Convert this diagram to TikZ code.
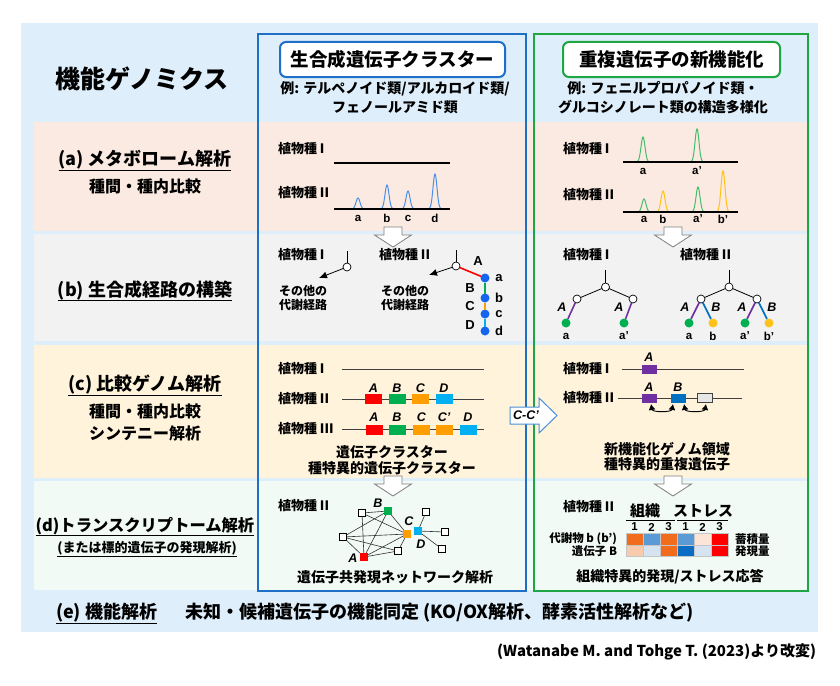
\documentclass[tikz,border=0pt]{standalone}
\usepackage{fontspec}
\setmainfont{Noto Sans CJK JP}
\newfontfamily\latf{Liberation Sans}
\usetikzlibrary{arrows.meta,calc}
\definecolor{bgblue}{HTML}{DEEEFA}
\definecolor{bandA}{HTML}{FBEAE1}
\definecolor{bandB}{HTML}{F2F2F2}
\definecolor{bandC}{HTML}{FFF4DB}
\definecolor{bandD}{HTML}{F2FAF5}
\definecolor{colblue}{HTML}{1F6FC6}
\definecolor{colgreen}{HTML}{1FA644}
\definecolor{pkblue}{HTML}{4A90E8}
\definecolor{pkgreen}{HTML}{43BE6A}
\definecolor{pkyellow}{HTML}{FFC21A}
\definecolor{gred}{HTML}{FF0000}
\definecolor{ggreen}{HTML}{00B050}
\definecolor{gorange}{HTML}{FF9E00}
\definecolor{gcyan}{HTML}{00B0F0}
\definecolor{gpurple}{HTML}{7030A0}
\definecolor{gblue}{HTML}{0070C0}
\definecolor{dotblue}{HTML}{1565F0}
\definecolor{hmorange}{HTML}{F26C1D}
\definecolor{hmblue}{HTML}{5B9BD5}
\definecolor{hmpeach}{HTML}{FCE4D6}
\definecolor{hmpeachb}{HTML}{F8CBAD}
\definecolor{hmlblue}{HTML}{D6E3F1}
\definecolor{hmdblue}{HTML}{0B6CC4}
\definecolor{arrgray}{HTML}{7F7F7F}
\definecolor{ccblue}{HTML}{4A8FD8}
\definecolor{linegray}{HTML}{404040}
\definecolor{boxgray}{HTML}{E7E6E6}
\newcommand\drawpeak[4]{\draw[#4, line width=1pt] plot[domain=-10:10, samples=51, smooth] ({#1+\x},{#2-#3*exp(-\x*\x/8)});}
\tikzset{
  every node/.style={inner sep=0pt, outer sep=0pt},
  ft/.style 2 args={font=\bfseries\fontsize{#1}{#2}\selectfont, align=center},
  sp/.style={ft={13}{15}, anchor=west},
  gl/.style={font=\latf\bfseries\fontsize{11.5}{13}\selectfont},
  gu/.style={font=\latf\bfseries\fontsize{13}{14}\selectfont},
  gi/.style={font=\latf\bfseries\itshape\fontsize{12.5}{14}\selectfont},
  hbox/.style={draw=#1, fill=white, line width=2pt, rounded corners=6pt, minimum height=35pt, ft={18.5}{20}},
  ul/.style={line width=1pt},
  base/.style={line width=1.3pt, black},
  gline/.style={line width=1pt, linegray},
  thinl/.style={line width=0.8pt, black},
  parr/.style={line width=0.8pt, black, -{Latex[length=8pt,width=7pt]}},
  circ/.style={circle, draw=black, fill=white, line width=0.7pt, minimum size=8pt},
  bdot/.style={circle, fill=#1, minimum size=9pt},
  gene/.style={fill=#1, minimum width=17pt, minimum height=10pt},
  sgene/.style={fill=#1, minimum width=15pt, minimum height=9pt},
  nw/.style={draw=black, line width=0.5pt, fill=white, minimum size=7pt},
  nwc/.style={fill=#1, minimum size=8pt},
  nedge/.style={line width=0.6pt, black!80},
  cell/.style={fill=#1, draw=gray!45, line width=0.3pt, minimum width=17pt, minimum height=11.5pt, anchor=north west},
  downarr/.pic={\draw[arrgray, fill=white, line width=0.8pt] (-9,0) -- (9,0) -- (9,8) -- (18.5,8) -- (0,20) -- (-18.5,8) -- (-9,8) -- cycle;},
}
\begin{document}
\begin{tikzpicture}[x=1pt,y=-1pt]
\useasboundingbox (0,0) rectangle (840,685);
\fill[white] (0,0) rectangle (840,685);
\fill[bgblue] (21,23) rectangle (818,632);
\fill[bandA] (34,122) rectangle (808,231);
\fill[bandB] (34,234) rectangle (808,341);
\fill[bandC] (34,345) rectangle (808,478);
\fill[bandD] (34,481) rectangle (808,590);
\draw[colblue, line width=2pt] (258,34) rectangle (526,591);
\draw[colgreen, line width=2pt] (534,34) rectangle (808,591);

% headers
\node[ft={25}{28}] (title) at (142,79) {機能ゲノミクス};
\node[hbox=colblue, minimum width=225pt] (h1) at (392.5,59.5) {生合成遺伝子クラスター};
\node[hbox=colgreen, minimum width=217pt] (h2) at (671.5,59.5) {重複遺伝子の新機能化};
\node[ft={14}{19}] (s1) at (395,98) {例: テルペノイド類/アルカロイド類/\\フェノールアミド類};
\node[ft={14}{19}] (s2) at (663,98) {例: フェニルプロパノイド類・\\グルコシノレート類の構造多様化};

% left labels
\node[ft={18}{20}] (la) at (145,160) {(a) メタボローム解析};
\draw[ul] ([yshift=-1pt]la.south west) -- ([yshift=-1pt]la.south east);
\node[ft={16}{18}] (la2) at (145,186) {種間・種内比較};
\node[ft={18}{20}] (lb) at (145,290) {(b) 生合成経路の構築};
\draw[ul] ([yshift=-1pt]lb.south west) -- ([yshift=-1pt]lb.south east);
\node[ft={18}{20}] (lc) at (145,385) {(c) 比較ゲノム解析};
\draw[ul] ([yshift=-1pt]lc.south west) -- ([yshift=-1pt]lc.south east);
\node[ft={16}{22}] (lc2) at (145,422) {種間・種内比較\\シンテニー解析};
\node[ft={16.3}{18}] (ld) at (145,526) {(d)トランスクリプトーム解析};
\draw[ul] ([yshift=-1pt]ld.south west) -- ([yshift=-1pt]ld.south east);
\node[ft={13}{14}] (ld2) at (147,548) {(または標的遺伝子の発現解析)};
\draw[line width=0.8pt] ([yshift=-1pt]ld2.south west) -- ([yshift=-1pt]ld2.south east);
\node[ft={18}{20}, anchor=west] (le) at (56,613) {(e) 機能解析};
\draw[ul] ([yshift=-1pt]le.south west) -- ([yshift=-1pt]le.south east);
\node[ft={18}{20}, anchor=west] (le2) at (185,613) {未知・候補遺伝子の機能同定 (KO/OX解析、酵素活性解析など)};
\node[ft={15}{17}, anchor=east] (cite) at (816,652) {(Watanabe M. and Tohge T. (2023)より改変)};

% ---- row (a) middle
\node[sp] (a1) at (278,149) {植物種 I};
\node[sp] (a2) at (278,193) {植物種 II};
\coordinate (a1l) at (334,163); \coordinate (a1r) at (450,163);
\draw[base] (a1l) -- (a1r);
\drawpeak{358}{209}{11}{pkblue}
\drawpeak{387}{209}{24}{pkblue}
\drawpeak{408}{209}{18}{pkblue}
\drawpeak{435}{209}{35}{pkblue}
\coordinate (a2l) at (334,209); \coordinate (a2r) at (450,209);
\draw[base] (a2l) -- (a2r);
\node[gl] (pa) at (358,218) {a};
\node[gl] (pb) at (387,218) {b};
\node[gl] (pc) at (408,218) {c};
\node[gl] (pd) at (435,218) {d};

% ---- row (a) right
\node[sp] (a3) at (563,149) {植物種 I};
\node[sp] (a4) at (563,195) {植物種 II};
\drawpeak{643}{162}{25}{pkgreen}
\drawpeak{697}{162}{33}{pkgreen}
\coordinate (a3l) at (623,162); \coordinate (a3r) at (738,162);
\draw[base] (a3l) -- (a3r);
\drawpeak{644}{212}{13}{pkgreen}
\drawpeak{663}{212}{21}{pkyellow}
\drawpeak{698}{212}{25}{pkgreen}
\drawpeak{723}{212}{41}{pkyellow}
\coordinate (a4l) at (623,212); \coordinate (a4r) at (738,212);
\draw[base] (a4l) -- (a4r);
\node[gl] (qa) at (643,171) {a};
\node[gl] (qa2) at (697,171) {a’};
\node[gl] (ra) at (644,219) {a};
\node[gl] (rb) at (663,219) {b};
\node[gl] (ra2) at (698,219) {a’};
\node[gl] (rb2) at (723,219) {b’};

% down arrows
\pic at (393,227) {downarr};
\pic at (673,227) {downarr};
\pic at (393,476) {downarr};
\pic at (673,476) {downarr};

% ---- row (b) middle
\node[sp] (b1) at (278,255) {植物種 I};
\node[sp] (b2) at (379,255) {植物種 II};
\coordinate (p1t) at (347,251);
\node[circ] (p1c) at (347,267) {};
\coordinate (p1e) at (319,278);
\draw[thinl] (p1t) -- (p1c);
\draw[parr] (p1c) -- (p1e);
\node[ft={12}{14}] (o1) at (303,298) {その他の\\代謝経路};
\coordinate (p2t) at (456,250);
\node[circ] (p2c) at (456,266) {};
\coordinate (p2e) at (429,275);
\draw[thinl] (p2t) -- (p2c);
\draw[parr] (p2c) -- (p2e);
\node[ft={12}{14}] (o2) at (405,298) {その他の\\代謝経路};
\node[bdot=dotblue] (dA) at (485,278) {};
\node[bdot=dotblue] (dB) at (485,298) {};
\node[bdot=dotblue] (dC) at (485,314) {};
\node[bdot=dotblue] (dD) at (485,331) {};
\draw[gred, line width=1.6pt] (p2c) -- (dA);
\draw[ggreen, line width=1.6pt] (dA) -- (dB);
\draw[gorange, line width=1.6pt] (dB) -- (dC);
\draw[gcyan, line width=1.6pt] (dC) -- (dD);
\node[gu] (eA) at (478,261) {A};
\node[gu] (eB) at (470,288) {B};
\node[gu] (eC) at (470,306) {C};
\node[gu] (eD) at (470,325) {D};
\node[gu] (ea) at (499,278) {a};
\node[gu] (eb) at (499,298) {b};
\node[gu] (ec) at (499,314) {c};
\node[gu] (ed) at (499,331) {d};

% ---- row (b) right
\node[sp] (b3) at (563,255) {植物種 I};
\node[sp] (b4) at (680,255) {植物種 II};
% tree I
\coordinate (t1t) at (605.5,270);
\node[circ] (t1r) at (605.5,287) {};
\node[circ] (t1a) at (577,299) {};
\node[circ] (t1b) at (633,299) {};
\node[bdot=ggreen] (t1la) at (566,323) {};
\node[bdot=ggreen] (t1lb) at (624,323) {};
\draw[thinl] (t1t) -- (t1r);
\draw[thinl] (t1r) -- (t1a);
\draw[thinl] (t1r) -- (t1b);
\draw[gpurple, line width=1.6pt] (t1a) -- (t1la);
\draw[gpurple, line width=1.6pt] (t1b) -- (t1lb);
\node[gi] (t1A) at (562,307) {A};
\node[gi] (t1B) at (619,307) {A};
\node[gl] (t1x) at (566,336) {a};
\node[gl] (t1y) at (624,336) {a’};
% tree II
\coordinate (t2t) at (729,270);
\node[circ] (t2r) at (729,287) {};
\node[circ] (t2a) at (701,299) {};
\node[circ] (t2b) at (757,299) {};
\node[bdot=ggreen] (t2l1) at (689,323) {};
\node[bdot=pkyellow] (t2l2) at (713,323) {};
\node[bdot=ggreen] (t2l3) at (745,323) {};
\node[bdot=pkyellow] (t2l4) at (769,323) {};
\draw[thinl] (t2t) -- (t2r);
\draw[thinl] (t2r) -- (t2a);
\draw[thinl] (t2r) -- (t2b);
\draw[gpurple, line width=1.6pt] (t2a) -- (t2l1);
\draw[gblue, line width=1.6pt] (t2a) -- (t2l2);
\draw[gpurple, line width=1.6pt] (t2b) -- (t2l3);
\draw[gblue, line width=1.6pt] (t2b) -- (t2l4);
\node[gi] (t2A1) at (685,307) {A};
\node[gi] (t2B1) at (716,307) {B};
\node[gi] (t2A2) at (742,307) {A};
\node[gi] (t2B2) at (772,307) {B};
\node[gl] (t2x1) at (689,336) {a};
\node[gl] (t2x2) at (713,336) {b};
\node[gl] (t2x3) at (745,336) {a’};
\node[gl] (t2x4) at (769,336) {b’};

% ---- row (c) middle
\node[sp] (c1) at (278,369) {植物種 I};
\coordinate (c1l) at (342,369); \coordinate (c1r) at (484,369);
\draw[gline] (c1l) -- (c1r);
\node[sp] (c2) at (278,399) {植物種 II};
\coordinate (c2l) at (342,399); \coordinate (c2r) at (484,399);
\draw[gline] (c2l) -- (c2r);
\node[gene=gred] (gA2) at (373.5,399) {};
\node[gene=ggreen] (gB2) at (397,399) {};
\node[gene=gorange] (gC2) at (420.5,399) {};
\node[gene=gcyan] (gD2) at (444,399) {};
\node[gi] (lA2) at (373.5,388) {A};
\node[gi] (lB2) at (397,388) {B};
\node[gi] (lC2) at (420.5,388) {C};
\node[gi] (lD2) at (444,388) {D};
\node[sp] (c3) at (278,429) {植物種 III};
\coordinate (c3l) at (342,429); \coordinate (c3r) at (484,429);
\draw[gline] (c3l) -- (c3r);
\node[gene=gred] (gA3) at (374,429.5) {};
\node[gene=ggreen] (gB3) at (397,429.5) {};
\node[gene=gorange] (gC3) at (421.5,429.5) {};
\node[gene=gorange] (gC3b) at (444,429.5) {};
\node[gene=gcyan] (gD3) at (468,429.5) {};
\node[gi] (lA3) at (374,417) {A};
\node[gi] (lB3) at (397,417) {B};
\node[gi] (lC3) at (421.5,417) {C};
\node[gi] (lC3b) at (444,417) {C’};
\node[gi] (lD3) at (468,417) {D};
\node[ft={14}{16}] (ct) at (392,460) {遺伝子クラスター\\種特異的遺伝子クラスター};

% ---- row (c) right
\node[sp] (c4) at (563,369) {植物種 I};
\coordinate (c4l) at (622,369); \coordinate (c4r) at (744,369);
\draw[gline] (c4l) -- (c4r);
\node[sgene=gpurple] (rA1) at (649.5,369) {};
\node[gi] (rlA1) at (649,357) {A};
\node[sp] (c5) at (563,398) {植物種 II};
\coordinate (c5l) at (618,398); \coordinate (c5r) at (742,398);
\draw[gline] (c5l) -- (c5r);
\node[sgene=gpurple] (rA2) at (649.5,398) {};
\node[sgene=gblue] (rB2) at (678.5,398) {};
\node[sgene=boxgray, draw=linegray, line width=0.8pt] (rX2) at (705,398) {};
\node[gi] (rlA2) at (649,387) {A};
\node[gi] (rlB2) at (678,387) {B};
\coordinate (q1) at (651,404); \coordinate (q2) at (673,404);
\coordinate (q3) at (684,404); \coordinate (q4) at (706,404);
\draw[line width=0.9pt, {Latex[length=6pt,width=7pt]}-{Latex[length=6pt,width=7pt]}] (q1) to[out=-80, in=-100] (q2);
\draw[line width=0.9pt, {Latex[length=6pt,width=7pt]}-{Latex[length=6pt,width=7pt]}] (q3) to[out=-80, in=-100] (q4);
\node[ft={14}{15}] (rt) at (667,457) {新機能化ゲノム領域\\種特異的重複遺伝子};

% C-C' arrow
\draw[ccblue, fill=white, line width=1pt] (510,407) -- (539,407) -- (539,398) -- (557,415.5) -- (539,433) -- (539,424) -- (510,424) -- cycle;
\node[gi] (cc) at (526,415.5) {C-C’};

% ---- row (d) middle
\node[sp] (d1) at (278,506) {植物種 II};
\node[nw] (n1) at (362,513) {};
\node[nw] (n2) at (343,537) {};
\node[nw] (n3) at (398,551) {};
\node[nw] (n4) at (426,512) {};
\node[nw] (n5) at (445,532) {};
\node[nw] (n6) at (442,549) {};
\node[nwc=ggreen] (nB) at (388,511) {};
\node[nwc=gred] (nA) at (364,557) {};
\node[nwc=gorange] (nC) at (407,534) {};
\node[nwc=gcyan] (nD) at (418,531) {};
\draw[nedge] (n1) -- (nB);
\draw[nedge] (n1) -- (nC);
\draw[nedge] (n1) -- (nA);
\draw[nedge] (n2) -- (nB);
\draw[nedge] (n2) -- (nC);
\draw[nedge] (n2) -- (n3);
\draw[nedge] (n2) -- (nA);
\draw[nedge] (nB) -- (nA);
\draw[nedge] (nB) -- (nC);
\draw[nedge] (nA) -- (nC);
\draw[nedge] (nA) -- (n3);
\draw[nedge] (n3) -- (nC);
\draw[nedge] (nD) -- (n4);
\draw[nedge] (nD) -- (n5);
\draw[nedge] (nD) -- (n6);
\node[gi] (nlB) at (378,503) {B};
\node[gi] (nlC) at (409,521) {C};
\node[gi] (nlD) at (421,544) {D};
\node[gi] (nlA) at (353,558) {A};
\node[ft={14}{16}] (d3) at (395,577) {遺伝子共発現ネットワーク解析};

% ---- row (d) right
\node[sp] (d2) at (563,507) {植物種 II};
\node[ft={15}{17}] (tis) at (645,511) {組織};
\node[ft={15}{17}] (str) at (703,511) {ストレス};
\coordinate (u1) at (626,520); \coordinate (u2) at (675,520);
\coordinate (u3) at (677,520); \coordinate (u4) at (728,520);
\draw[line width=0.8pt] (u1) -- (u2);
\draw[line width=0.8pt] (u3) -- (u4);
\node[gl] (k1) at (634.5,527) {1};
\node[gl] (k2) at (651.5,527) {2};
\node[gl] (k3) at (668.5,527) {3};
\node[gl] (k4) at (685.5,527) {1};
\node[gl] (k5) at (702.5,527) {2};
\node[gl] (k6) at (719.5,527) {3};
\node[cell=hmorange] (m11) at (626,533.5) {};
\node[cell=hmblue] (m12) at (643,533.5) {};
\node[cell=hmorange] (m13) at (660,533.5) {};
\node[cell=hmblue] (m14) at (677,533.5) {};
\node[cell=hmpeach] (m15) at (694,533.5) {};
\node[cell=gred] (m16) at (711,533.5) {};
\node[cell=hmpeachb] (m21) at (626,545) {};
\node[cell=hmlblue] (m22) at (643,545) {};
\node[cell=hmorange] (m23) at (660,545) {};
\node[cell=hmdblue] (m24) at (677,545) {};
\node[cell=hmlblue] (m25) at (694,545) {};
\node[cell=gred] (m26) at (711,545) {};
\node[ft={11.5}{13}, anchor=east] (hl1) at (617,539) {代謝物 b (b’)};
\node[ft={11.5}{13}, anchor=east] (hl2) at (617,551) {遺伝子 B};
\node[ft={11.5}{13}, anchor=west] (hr1) at (735,539) {蓄積量};
\node[ft={11.5}{13}, anchor=west] (hr2) at (735,551) {発現量};
\node[ft={14}{16}] (d4) at (670,577) {組織特異的発現/ストレス応答};
\end{tikzpicture}
\end{document}
